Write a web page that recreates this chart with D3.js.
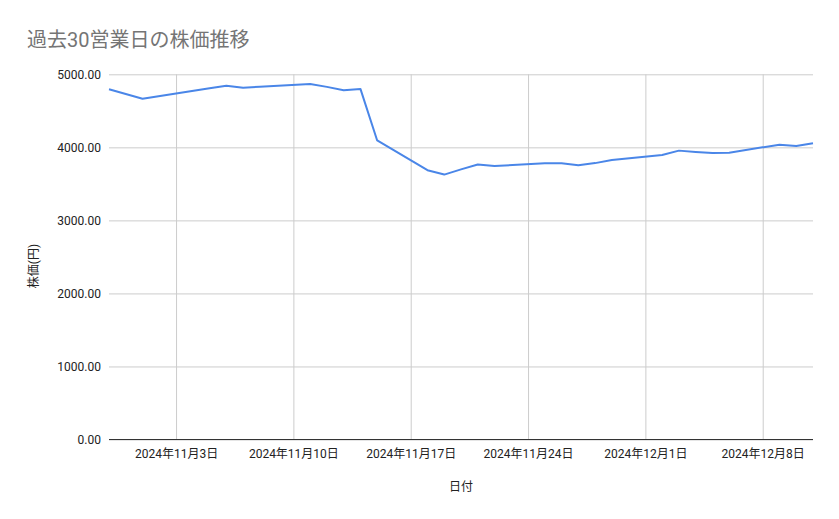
<!DOCTYPE html>
<html>
<head>
<meta charset="utf-8">
<script src="https://cdn.jsdelivr.net/npm/d3@7"></script>
<style>
  body { margin: 0; background: #fff; }
  text { font-family: Roboto, "Noto Sans CJK JP", sans-serif; }
</style>
</head>
<body>
<div class="chart"></div>
<script>
// 30 business days (Nov 4 is a holiday)
const dates = ['2024-10-30','2024-10-31','2024-11-01','2024-11-05','2024-11-06','2024-11-07','2024-11-08',
  '2024-11-11','2024-11-12','2024-11-13','2024-11-14','2024-11-15',
  '2024-11-18','2024-11-19','2024-11-20','2024-11-21','2024-11-22',
  '2024-11-25','2024-11-26','2024-11-27','2024-11-28','2024-11-29',
  '2024-12-02','2024-12-03','2024-12-04','2024-12-05','2024-12-06',
  '2024-12-09','2024-12-10','2024-12-11'];
const prices = [4795, 4730, 4666, 4810, 4844, 4817, 4830,
  4867, 4828, 4783, 4800, 4094,
  3687, 3627, 3698, 3766, 3743,
  3782, 3782, 3756, 3784, 3828,
  3894, 3955, 3937, 3923, 3927,
  4037, 4019, 4057];
const xTickDates = ['2024-11-03','2024-11-10','2024-11-17','2024-11-24','2024-12-01','2024-12-08'];
const yTicks = [0, 1000, 2000, 3000, 4000, 5000];

const parse = d3.timeParse('%Y-%m-%d');
const data = dates.map((d, i) => ({date: parse(d), price: prices[i]}));

const W = 839, H = 519;
const margin = {top: 74.3, right: 26, bottom: 79.5, left: 109};

const svg = d3.select('.chart')
  .append('svg')
  .attr('width', W)
  .attr('height', H);

const xScale = d3.scaleTime()
  .domain(d3.extent(data, d => d.date))
  .range([margin.left, W - margin.right]);

const yScale = d3.scaleLinear()
  .domain([0, 5000])
  .range([H - margin.bottom, margin.top]);

// title
svg.append('text')
  .attr('x', 27)
  .attr('y', 47)
  .attr('font-size', 20)
  .attr('fill', '#757575')
  .text('過去30営業日の株価推移');

// horizontal grid + y labels
const yAxis = d3.axisLeft(yScale)
  .tickValues(yTicks)
  .tickSize(-(W - margin.left - margin.right))
  .tickPadding(8)
  .tickFormat(d3.format('.2f'));

svg.append('g')
  .attr('class', 'axis y-axis')
  .attr('transform', `translate(${margin.left},0)`)
  .call(yAxis)
  .call(g => g.select('.domain').remove())
  .call(g => g.selectAll('line').attr('stroke', '#cccccc'))
  .call(g => g.selectAll('text').attr('font-size', 12).attr('fill', '#222').attr('font-family', 'Roboto, sans-serif'));

// vertical grid + x labels
const fmt = d3.timeFormat('%Y年%-m月%-d日');
const xAxis = d3.axisBottom(xScale)
  .tickValues(xTickDates.map(parse))
  .tickSize(-(H - margin.top - margin.bottom))
  .tickPadding(10)
  .tickFormat(fmt);

svg.append('g')
  .attr('class', 'axis x-axis')
  .attr('transform', `translate(0,${H - margin.bottom})`)
  .call(xAxis)
  .call(g => g.select('.domain').remove())
  .call(g => g.selectAll('line').attr('stroke', '#cccccc'))
  .call(g => g.selectAll('text').attr('font-size', 12).attr('fill', '#222'));

// baseline
svg.append('line')
  .attr('x1', margin.left)
  .attr('x2', W - margin.right)
  .attr('y1', yScale(0))
  .attr('y2', yScale(0))
  .attr('stroke', '#333')
  .attr('stroke-width', 1);

// line
const line = d3.line()
  .x(d => xScale(d.date))
  .y(d => yScale(d.price));

svg.append('path')
  .datum(data)
  .attr('fill', 'none')
  .attr('stroke', '#4a86e8')
  .attr('stroke-width', 2)
  .attr('stroke-linejoin', 'round')
  .attr('d', line);

// axis titles
svg.append('text')
  .attr('x', (margin.left + W - margin.right) / 2)
  .attr('y', 491)
  .attr('text-anchor', 'middle')
  .attr('font-size', 12)
  .attr('fill', '#222')
  .text('日付');

svg.append('text')
  .attr('transform', 'translate(38,266) rotate(-90)')
  .attr('text-anchor', 'middle')
  .attr('font-size', 12)
  .attr('fill', '#222')
  .text('株価(円)');
</script>
</body>
</html>
